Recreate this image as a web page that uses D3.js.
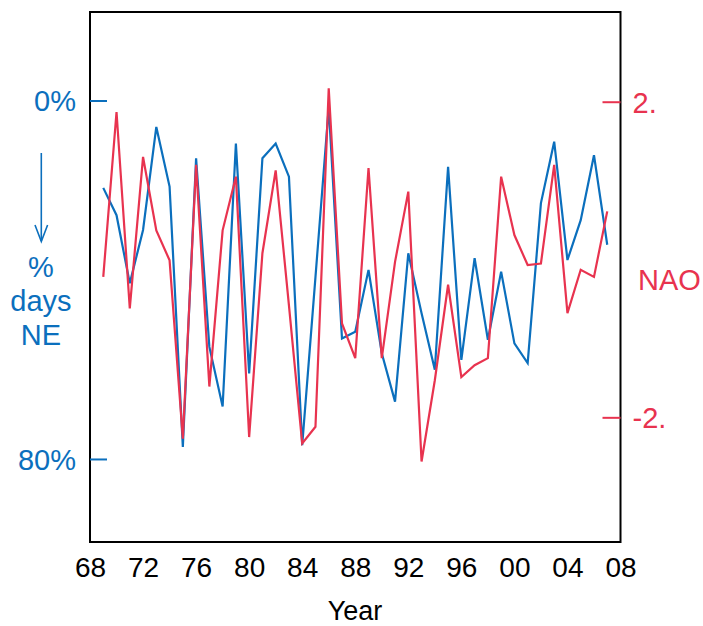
<!DOCTYPE html>
<html>
<head>
<meta charset="utf-8">
<script src="https://cdn.jsdelivr.net/npm/d3@7"></script>
<style>
  body { margin: 0; background: #fff; }
  svg { font-family: "Liberation Sans", Arial, sans-serif; }
</style>
</head>
<body>
<script>
// years 1969 - 2007
const years = d3.range(1969, 2008);

// % of days with NE wind (left axis, inverted)
const pctDaysNE = [19.5, 25.6, 40.8, 28.9, 5.9, 19.2, 77.3, 12.9, 55.0, 68.3,
    9.6, 60.9, 12.9, 9.6, 17.0, 76.9, 39.4, 1.5, 53.1, 51.6,
    37.8, 56.4, 67.2, 34.1, 47.5, 60.1, 14.8, 57.9, 35.2, 53.4,
    38.2, 54.2, 58.6, 22.9, 9.2, 35.6, 26.7, 12.2, 32.2];

// NAO index (right axis)
const nao = [-0.22, 1.87, -0.62, 1.30, 0.37, -0.01, -2.27, 1.20, -1.61, 0.37,
    1.05, -2.25, 0.08, 1.13, -0.58, -2.33, -2.12, 2.17, -0.81, -1.25,
    1.16, -1.25, -0.03, 0.86, -2.56, -1.53, -0.32, -1.49, -1.34, -1.25,
    1.05, 0.31, -0.07, -0.05, 1.20, -0.68, -0.13, -0.22, 0.61];

const yearTicks = d3.range(1968, 2009, 4);
const leftTicks = [0, 80];
const rightTicks = [2, -2];

const blue = '#0b6fbd';
const red = '#e8334f';

const width = 703;
const height = 626;
const frame = { left: 90, right: 620.5, top: 12, bottom: 542 };

const svg = d3.select("body").append("svg")
    .attr("width", width)
    .attr("height", height);

const x = d3.scaleLinear()
    .domain([1968, 2008])
    .range([frame.left, frame.right]);

const yLeft = d3.scaleLinear()
    .domain([-19.75, 98.53])
    .range([frame.top, frame.bottom]);

const yRight = d3.scaleLinear()
    .domain([-3.58, 3.137])
    .range([frame.bottom, frame.top]);

// frame
svg.append("rect")
    .attr("x", frame.left)
    .attr("y", frame.top)
    .attr("width", frame.right - frame.left)
    .attr("height", frame.bottom - frame.top)
    .attr("fill", "none")
    .attr("stroke", "#000")
    .attr("stroke-width", 2);

// x axis
const xAxisG = svg.append("g")
    .attr("transform", "translate(0," + frame.bottom + ")")
    .call(d3.axisBottom(x)
        .tickValues(yearTicks)
        .tickSize(0)
        .tickPadding(15)
        .tickFormat(d => String(d % 100).padStart(2, '0')));
xAxisG.select(".domain").remove();
xAxisG.selectAll("text")
    .style("font-size", "28px")
    .attr("fill", "#000");

// left axis
const leftAxisG = svg.append("g")
    .attr("transform", "translate(" + frame.left + ",0)")
    .call(d3.axisLeft(yLeft)
        .tickValues(leftTicks)
        .tickSize(-17)
        .tickPadding(14)
        .tickFormat(d => d + "%"));
leftAxisG.select(".domain").remove();
leftAxisG.selectAll("line").attr("stroke", blue).attr("stroke-width", 2);
leftAxisG.selectAll("text")
    .style("font-size", "29px")
    .attr("dy", "0.36em")
    .attr("fill", blue);

// right axis
const rightAxisG = svg.append("g")
    .attr("transform", "translate(" + frame.right + ",0)")
    .call(d3.axisRight(yRight)
        .tickValues(rightTicks)
        .tickSize(-18)
        .tickPadding(12)
        .tickFormat(d => (d < 0 ? "-" : "") + Math.abs(d) + "."));
rightAxisG.select(".domain").remove();
rightAxisG.selectAll("line").attr("stroke", red).attr("stroke-width", 2);
rightAxisG.selectAll("text")
    .style("font-size", "29px")
    .attr("dy", "0.36em")
    .attr("fill", red);

// lines
const lineLeft = d3.line()
    .x((d, i) => x(years[i]))
    .y(d => yLeft(d));

const lineRight = d3.line()
    .x((d, i) => x(years[i]))
    .y(d => yRight(d));

svg.append("path")
    .datum(pctDaysNE)
    .attr("d", lineLeft)
    .attr("fill", "none")
    .attr("stroke", blue)
    .attr("stroke-width", 2.2);

svg.append("path")
    .datum(nao)
    .attr("d", lineRight)
    .attr("fill", "none")
    .attr("stroke", red)
    .attr("stroke-width", 2.2);

// left axis label with arrow
svg.append("line")
    .attr("x1", 41.3).attr("y1", 153)
    .attr("x2", 41.3).attr("y2", 241)
    .attr("stroke", blue)
    .attr("stroke-width", 1.6);
svg.append("path")
    .attr("d", "M35,225L41.3,241.5L47.6,225")
    .attr("fill", "none")
    .attr("stroke", blue)
    .attr("stroke-width", 1.6);

svg.append("text")
    .attr("x", 41)
    .attr("text-anchor", "middle")
    .attr("fill", blue)
    .style("font-size", "29px")
    .selectAll("tspan")
    .data(["%", "days", "NE"])
    .join("tspan")
    .attr("x", 41)
    .attr("y", (d, i) => 277 + i * 34)
    .text(d => d);

// right axis label
svg.append("text")
    .attr("x", 638)
    .attr("y", 290)
    .attr("fill", red)
    .style("font-size", "29px")
    .text("NAO");

// x axis label
svg.append("text")
    .attr("x", 355)
    .attr("y", 620)
    .attr("text-anchor", "middle")
    .attr("fill", "#000")
    .style("font-size", "27px")
    .text("Year");
</script>
</body>
</html>
